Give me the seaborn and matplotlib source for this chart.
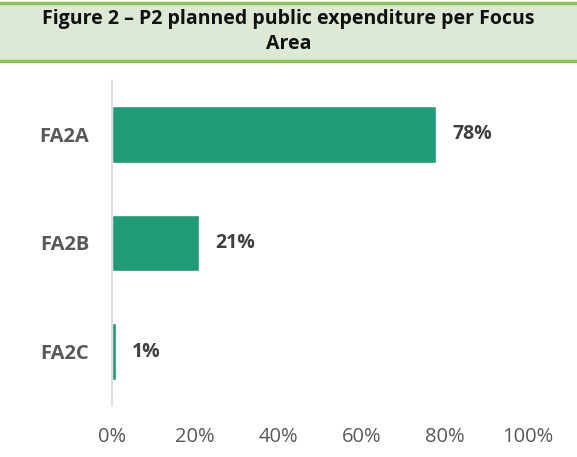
import pandas as pd
import seaborn as sns
import matplotlib.pyplot as plt
from matplotlib.patches import Rectangle
from matplotlib.lines import Line2D
from matplotlib.ticker import PercentFormatter

# data
areas = ['FA2A', 'FA2B', 'FA2C']
shares = [78, 21, 1]
bar_labels = ['78%', '21%', '1%']

sns.set_style('white')
plt.rcParams['font.family'] = ['Open Sans', 'DejaVu Sans']

df = pd.DataFrame({'area': areas, 'share': shares})

fig = plt.figure(figsize=(5.77, 4.57), dpi=100)
ax = fig.add_axes([0.1941, 0.1116, 0.7209, 0.7134])

sns.barplot(data=df, x='share', y='area', color='#1f9b77', width=0.52,
            saturation=1, ax=ax)

for p, lab in zip(ax.patches, bar_labels):
    ax.text(p.get_width() + 3.8, p.get_y() + p.get_height() / 2, lab,
            ha='left', va='center', fontsize=14, fontweight='bold', color='#404040')

ax.set_xlim(0, 100)
ax.set_ylim(2.5, -0.5)
ax.set_xticks([0, 20, 40, 60, 80, 100])
ax.xaxis.set_major_formatter(PercentFormatter(decimals=0))
ax.set_xlabel('')
ax.set_ylabel('')
ax.tick_params(axis='x', labelsize=14.5, colors='#595959', length=0, pad=15)
ax.tick_params(axis='y', labelsize=14.5, colors='#595959', length=0, pad=16.5)
for t in ax.get_yticklabels():
    t.set_fontweight('bold')
for s in ['top', 'right', 'bottom']:
    ax.spines[s].set_visible(False)
ax.spines['left'].set_color('#d9d9d9')
ax.spines['left'].set_linewidth(1.2)

# title band
fig.patches.append(Rectangle((0, 0.8665), 1, 0.127, transform=fig.transFigure,
                             facecolor='#dde9d5', edgecolor='none', zorder=0))
for yy in [0.9934, 0.8665]:
    fig.lines.append(Line2D([0, 1], [yy, yy], transform=fig.transFigure,
                            color='#8dc155', linewidth=2.5))
fig.text(0.5, 0.931, 'Figure 2 \u2013 P2 planned public expenditure per Focus\nArea',
         ha='center', va='center', fontsize=14, fontweight='bold',
         color='#111111', linespacing=1.35)

fig.savefig('out.png', dpi=100)
